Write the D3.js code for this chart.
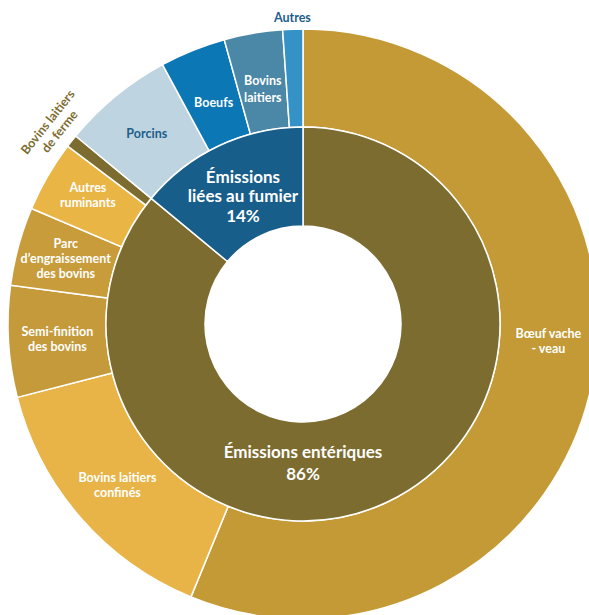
<!DOCTYPE html>
<html>
<head>
<meta charset="utf-8">
<script src="https://cdn.jsdelivr.net/npm/d3@7"></script>
<style>
  html, body { margin: 0; padding: 0; background: #fff; overflow: hidden; }
  svg text { font-family: Lato, "Open Sans", sans-serif; font-weight: 700; }
</style>
</head>
<body>
<div id="chart"></div>
<script>
// inner ring: emission sources
var innerNames = ["Émissions entériques", "Émissions liées au fumier"];
var innerValues = [86, 14];
var innerColors = ["#7d6c2f", "#175e8b"];

// outer ring: animal categories (clockwise from 12 o'clock)
var outerNames = ["Bœuf vache - veau", "Bovins laitiers confinés", "Semi-finition des bovins",
                  "Parc d’engraissement des bovins", "Autres ruminants", "Bovins laitiers de ferme",
                  "Porcins", "Boeufs", "Bovins laitiers", "Autres"];
var outerValues = [56.2, 14.8, 6.1, 4.3, 3.9, 0.7, 6.1, 3.6, 3.2, 1.1];
var outerColors = ["#c39a35", "#e9b447", "#c59a3a", "#c89c3a", "#e9b545", "#7d6c2f",
                   "#bed4e0", "#0b77b5", "#4b87a6", "#3592c6"];

// how each label is broken into lines
var innerLines = [["Émissions entériques", "86%"], ["Émissions", "liées au fumier", "14%"]];
var outerLines = [["Bœuf vache", "- veau"], ["Bovins laitiers", "confinés"], ["Semi-finition", "des bovins"],
                  ["Parc", "d’engraissement", "des bovins"], ["Autres", "ruminants"], ["Bovins laitiers", "de ferme"],
                  ["Porcins"], ["Boeufs"], ["Bovins", "laitiers"], ["Autres"]];

var width = 589, height = 615;
var cx = 303, cy = 324;
var r0 = 98, r1 = 197, r2 = 295;

var svg = d3.select("#chart").append("svg")
  .attr("width", width)
  .attr("height", height);

var g = svg.append("g").attr("transform", "translate(" + cx + "," + cy + ")");

var pie = d3.pie().sort(null).value(function (d) { return d; });
var innerArcs = pie(innerValues);
var outerArcs = pie(outerValues);

var innerArc = d3.arc().innerRadius(r0).outerRadius(r1);
var outerArc = d3.arc().innerRadius(r1).outerRadius(r2);

g.selectAll(".outer").data(outerArcs)
  .enter().append("path")
  .attr("class", "outer")
  .attr("d", outerArc)
  .attr("fill", function (d, i) { return outerColors[i]; })
  .attr("stroke", "#fff")
  .attr("stroke-width", 1.5);

g.selectAll(".inner").data(innerArcs)
  .enter().append("path")
  .attr("class", "inner")
  .attr("d", innerArc)
  .attr("fill", function (d, i) { return innerColors[i]; })
  .attr("stroke", "#fff")
  .attr("stroke-width", 1.5);

// label placement helpers
var deg = Math.PI / 180;
function midAngle(d) { return (d.startAngle + d.endAngle) / 2; }
function polar(a, r) { return [r * Math.sin(a), -r * Math.cos(a)]; }

function drawLabel(lines, pos, size, lh, color, rotate) {
  var t = g.append("text")
    .attr("text-anchor", "middle")
    .attr("font-size", size)
    .attr("fill", color)
    .attr("transform", "translate(" + pos[0] + "," + pos[1] + ")" + (rotate ? " rotate(" + rotate + ")" : ""));
  var off = -(lines.length - 1) / 2 * lh;
  lines.forEach(function (l, k) {
    t.append("tspan").attr("x", 0).attr("y", off + k * lh).attr("dy", "0.35em").text(l);
  });
}

// label radius tweaks (default is the middle of the ring)
var outerR = { 4: 251, 5: 318, 7: 239, 8: 238, 9: 307 };

outerArcs.forEach(function (d, i) {
  var a = midAngle(d), color = "#fff", rot = 0, lh = 15;
  var r = outerR[i] || (r1 + r2) / 2;
  if (i === 0) a = 94 * deg;            // visible part of the big slice
  if (i === 4) a = 301 * deg;
  if (i === 6 || i === 9) color = "#1d5e8c";
  if (i === 5) { color = "#7d6c2f"; rot = a / deg - 360; }
  if (i === 8) lh = 17;
  drawLabel(outerLines[i], polar(a, r), i === 5 ? 12.5 : 12.5, lh, color, rot);
});

// inner labels
innerArcs.forEach(function (d, i) {
  var pos = i === 0 ? polar(180 * deg, 139) : polar(midAngle(d), 141);
  drawLabel(innerLines[i], pos, 17, i === 0 ? 22 : 19.5, "#fff", 0);
});
</script>
</body>
</html>
